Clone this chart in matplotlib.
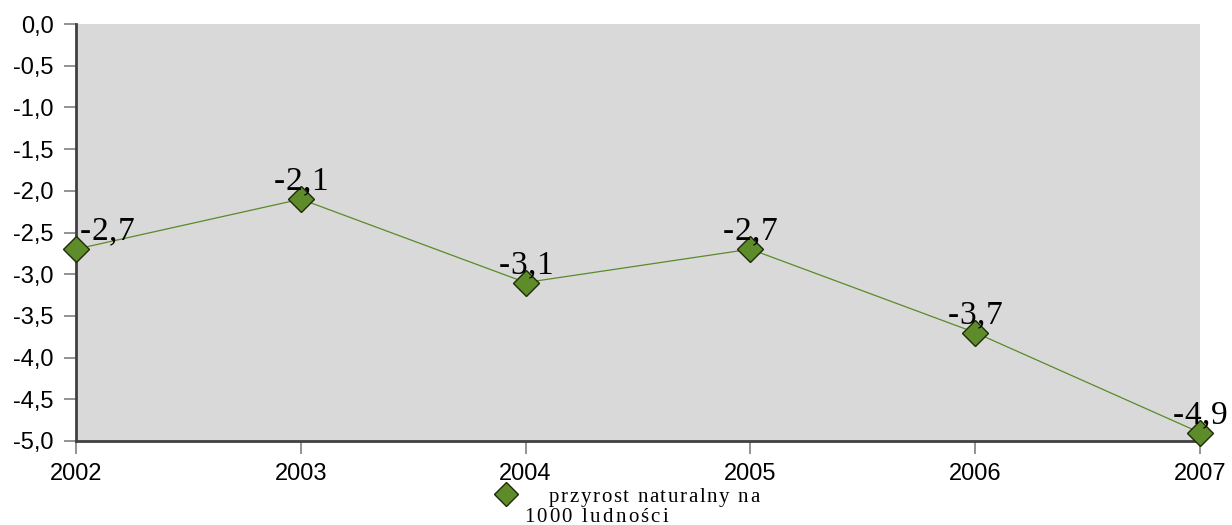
import matplotlib
matplotlib.use("Agg")
import matplotlib.pyplot as plt
from matplotlib.lines import Line2D
from matplotlib.font_manager import FontProperties
from matplotlib.transforms import IdentityTransform

years = [2002, 2003, 2004, 2005, 2006, 2007]
values = [-2.7, -2.1, -3.1, -2.7, -3.7, -4.9]
yticks = [0.0, -0.5, -1.0, -1.5, -2.0, -2.5, -3.0, -3.5, -4.0, -4.5, -5.0]
legend_lines = ["przyrost naturalny na", "1000 ludności"]

W, H = 1232, 525
fig = plt.figure(figsize=(W / 100, H / 100), dpi=100)
ax = fig.add_axes([76 / W, 1 - 441 / H, (1200 - 76) / W, (441 - 24) / H])
ax.set_facecolor("#d9d9d9")
green = "#5f8c2b"
ax.plot(years, values, color="#5a8a2a", lw=0.9, zorder=3, clip_on=False)
ax.plot(years, values, linestyle="none", marker="D", ms=13,
        markerfacecolor=green, markeredgecolor="#1e2a0a", markeredgewidth=1,
        clip_on=False, zorder=4)
ax.set_xlim(2002, 2007)
ax.set_ylim(-5, 0)
ax.set_xticks(years)
ax.set_xticklabels([str(y) for y in years])
ax.set_yticks(yticks)
ax.set_yticklabels([f"{t:.1f}".replace(".", ",") for t in yticks])
for lab in ax.get_xticklabels() + ax.get_yticklabels():
    lab.set_family("Liberation Sans")
    lab.set_fontsize(17)
ax.tick_params(axis="both", direction="out", length=9, width=1.2, color="#808080")
ax.tick_params(axis="y", pad=7)
ax.tick_params(axis="x", pad=7)
for sp in ["top", "right"]:
    ax.spines[sp].set_visible(False)
for sp in ["left", "bottom"]:
    ax.spines[sp].set_color("#404040")
    ax.spines[sp].set_linewidth(2)

renderer = fig.canvas.get_renderer()


def char_widths(s, prop):
    base, _, _ = renderer.get_text_width_height_descent("||", prop, ismath=False)
    out = []
    for c in s:
        w, _, _ = renderer.get_text_width_height_descent("|" + c + "|", prop, ismath=False)
        out.append(w - base)
    return out


def spaced_text(x, y, s, prop, spacing, ha="left"):
    """x, y in display pixels (y from bottom), baseline alignment."""
    ws = char_widths(s, prop)
    total = sum(ws) + spacing * (len(s) - 1)
    if ha == "center":
        x = x - total / 2
    cx = x
    for c, w in zip(s, ws):
        fig.text(cx, y, c, fontproperties=prop, transform=IdentityTransform(),
                 ha="left", va="baseline", zorder=5)
        cx += w + spacing


label_prop = FontProperties(family="Liberation Serif", size=24)
for i, (x, v) in enumerate(zip(years, values)):
    s = f"{v:.1f}".replace(".", ",")
    px, py = ax.transData.transform((x, v))
    if i == 0:
        spaced_text(px + 4, py + 9, s, label_prop, 0.5, ha="left")
    else:
        spaced_text(px, py + 9, s, label_prop, 0.5, ha="center")

fig.lines.append(Line2D([506 / W], [1 - 494 / H], transform=fig.transFigure, marker="D", ms=12,
                        markerfacecolor=green, markeredgecolor="#1e2a0a", markeredgewidth=1,
                        linestyle="none"))
leg_prop = FontProperties(family="Liberation Serif", size=15)
spaced_text(549, H - 502, legend_lines[0], leg_prop, 1.6)
spaced_text(524, H - 522, legend_lines[1], leg_prop, 2.2)

fig.savefig("out.png", dpi=100)
